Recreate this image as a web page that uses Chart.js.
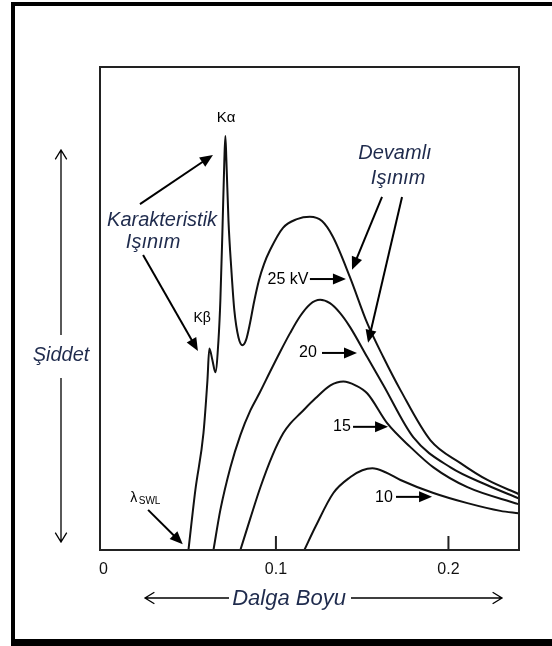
<!DOCTYPE html>
<html><head><meta charset="utf-8">
<script src="https://cdn.jsdelivr.net/npm/chart.js@4"></script>
<style>html,body{margin:0;padding:0;background:#fff}#wrap{width:552px;height:646px;position:relative}</style>
</head><body><div id="wrap"><canvas id="c" width="552" height="646"></canvas></div>
<script>
// Wavelength (nm) vs relative intensity
const kv25 = [[0.0493,0],[0.0533,12.4],[0.0580,24.2],[0.0603,35.1],[0.0614,41.7],[0.0632,39.3],[0.0649,36.8],[0.0667,43.4],[0.0678,51.7],[0.0690,66.1],[0.0701,80.6],[0.0707,85.7],[0.0713,80.6],[0.0725,68.2],[0.0742,57.9],[0.0759,49.6],[0.0783,44.0],[0.0806,42.4],[0.0827,43.5],[0.0850,47.0],[0.0873,51.3],[0.0902,55.9],[0.0931,59.2],[0.0966,62.1],[0.1041,66.7],[0.1122,68.5],[0.1197,69.0],[0.1267,68.1],[0.1331,64.8],[0.1429,56.5],[0.1530,46.9],[0.1623,39.9],[0.1722,33.1],[0.1896,22.7],[0.2070,18.0],[0.2226,14.5],[0.2406,11.6]];
const kv20 = [[0.0638,0],[0.0678,8.3],[0.0736,17.1],[0.0794,23.8],[0.0852,28.9],[0.0908,32.7],[0.0966,36.9],[0.1024,41.0],[0.1082,44.9],[0.1140,48.4],[0.1198,50.9],[0.1256,51.8],[0.1313,51.1],[0.1371,49.1],[0.1429,46.2],[0.1530,39.9],[0.1623,34.1],[0.1797,23.3],[0.2012,17.1],[0.2226,13.4],[0.2406,10.7]];
const kv15 = [[0.0794,0],[0.0852,6.6],[0.0910,13.0],[0.0980,19.6],[0.1043,24.2],[0.1084,26.2],[0.1142,28.3],[0.1229,31.4],[0.1316,34.1],[0.1391,34.9],[0.1461,34.1],[0.1530,32.4],[0.1646,26.2],[0.1780,21.3],[0.1913,17.1],[0.2110,13.0],[0.2406,9.5]];
const kv10 = [[0.1165,0],[0.1229,4.8],[0.1333,11.8],[0.1432,15.1],[0.1501,16.5],[0.1559,16.9],[0.1635,16.1],[0.1722,14.5],[0.1913,11.8],[0.2110,9.7],[0.2301,8.1],[0.2406,7.6]];
const tickValues = [0, 0.1, 0.2];
const tickLabels = ['0', '0.1', '0.2'];
const seriesLabels = ['25 kV', '20', '15', '10'];
const xTitle = 'Dalga Boyu';
const yTitle = 'Şiddet';

const toXY = a => a.map(p => ({x: p[0], y: p[1]}));
const seriesData = [kv25, kv20, kv15, kv10];

// annotation layout (data units)
const labelPos = [[0.1070,55.9],[0.1186,40.8],[0.1383,25.5],[0.1626,10.8]];
const labelArrows = [[[0.1197,56.1],[0.1406,56.1]],[[0.1267,40.8],[0.1470,40.8]],[[0.1447,25.5],[0.1650,25.5]],[[0.1696,11.0],[0.1905,11.0]]];

const NAVY = '#1f2b4d';
function arrowHead(ctx, x1, y1, x2, y2, len, hw) {
  const a = Math.atan2(y2 - y1, x2 - x1);
  ctx.beginPath();
  ctx.moveTo(x2, y2);
  ctx.lineTo(x2 - len*Math.cos(a) + hw*Math.sin(a), y2 - len*Math.sin(a) - hw*Math.cos(a));
  ctx.lineTo(x2 - len*Math.cos(a) - hw*Math.sin(a), y2 - len*Math.sin(a) + hw*Math.cos(a));
  ctx.closePath();
  ctx.fill();
}
function arrow(ctx, x1, y1, x2, y2) {
  const a = Math.atan2(y2 - y1, x2 - x1);
  ctx.beginPath();
  ctx.moveTo(x1, y1);
  ctx.lineTo(x2 - 10*Math.cos(a), y2 - 10*Math.sin(a));
  ctx.stroke();
  arrowHead(ctx, x1, y1, x2, y2, 13, 5.5);
}
function openArrow(ctx, x1, y1, x2, y2) {
  const a = Math.atan2(y2 - y1, x2 - x1);
  ctx.beginPath();
  ctx.moveTo(x1, y1); ctx.lineTo(x2, y2);
  const L = 11, t = 0.55;
  ctx.moveTo(x2 - L*Math.cos(a - t), y2 - L*Math.sin(a - t));
  ctx.lineTo(x2, y2);
  ctx.lineTo(x2 - L*Math.cos(a + t), y2 - L*Math.sin(a + t));
  ctx.stroke();
}

const decor = {
  id: 'decor',
  beforeDraw(chart) {
    const ctx = chart.ctx;
    ctx.save(); ctx.fillStyle = '#fff'; ctx.fillRect(0, 0, chart.width, chart.height); ctx.restore();
  },
  afterDraw(chart) {
    const ctx = chart.ctx, ca = chart.chartArea;
    const xs = chart.scales.x, ys = chart.scales.y;
    const X = v => xs.getPixelForValue(v), Y = v => ys.getPixelForValue(v);
    ctx.save();
    // outer frame
    ctx.fillStyle = '#000';
    ctx.fillRect(11, 2, 541, 4);
    ctx.fillRect(11, 2, 4, 644);
    ctx.fillRect(11, 639, 541, 7);
    // plot box
    ctx.strokeStyle = '#222'; ctx.lineWidth = 2;
    ctx.strokeRect(ca.left, ca.top, ca.right - ca.left, ca.bottom - ca.top);
    // ticks (inward)
    ctx.lineWidth = 2;
    tickValues.forEach((v, i) => {
      if (v > 0) { ctx.beginPath(); ctx.moveTo(X(v), ca.bottom); ctx.lineTo(X(v), ca.bottom - 14); ctx.stroke(); }
    });
    ctx.fillStyle = '#111'; ctx.font = '16px "Liberation Sans", Arial, sans-serif';
    ctx.textAlign = 'center'; ctx.textBaseline = 'middle';
    tickValues.forEach((v, i) => ctx.fillText(tickLabels[i], X(v), ca.bottom + 20));
    // series labels + arrows
    ctx.font = '16px "Liberation Sans", Arial, sans-serif';
    ctx.lineWidth = 2; ctx.strokeStyle = '#000'; ctx.fillStyle = '#000';
    seriesLabels.forEach((t, i) => {
      ctx.fillText(t, X(labelPos[i][0]), Y(labelPos[i][1]));
      const ar = labelArrows[i];
      arrow(ctx, X(ar[0][0]), Y(ar[0][1]), X(ar[1][0]), Y(ar[1][1]));
    });
    // K alpha / K beta
    ctx.font = '15px "Liberation Sans", Arial, sans-serif';
    ctx.fillText('Kα', X(0.0711), Y(89.4));
    ctx.font = '14px "Liberation Sans", Arial, sans-serif';
    ctx.fillText('Kβ', X(0.0572), Y(48.0));
    // lambda SWL
    ctx.textAlign = 'left';
    ctx.font = '14px "Liberation Sans", Arial, sans-serif';
    ctx.fillText('λ', X(0.0155), Y(10.8));
    ctx.font = '10px "Liberation Sans", Arial, sans-serif';
    ctx.fillText('SWL', X(0.0205), Y(10.0));
    arrow(ctx, X(0.0259), Y(8.3), X(0.0460), Y(1.2));
    // Karakteristik Işınım
    ctx.textAlign = 'center';
    ctx.fillStyle = NAVY;
    ctx.font = 'italic 20px "Liberation Sans", Arial, sans-serif';
    ctx.fillText('Karakteristik', X(0.0340), Y(68.3));
    ctx.fillText('Işınım', X(0.0288), Y(63.6));
    ctx.fillText('Devamlı', X(0.1690), Y(82.2));
    ctx.fillText('Işınım', X(0.1708), Y(77.0));
    ctx.fillStyle = '#000';
    arrow(ctx, X(0.0212), Y(71.6), X(0.0635), Y(81.8));
    arrow(ctx, X(0.0230), Y(61.1), X(0.0548), Y(41.2));
    arrow(ctx, X(0.1615), Y(73.1), X(0.1441), Y(58.0));
    arrow(ctx, X(0.1731), Y(73.1), X(0.1534), Y(42.9));
    // axis titles with long arrows
    ctx.fillStyle = NAVY;
    ctx.font = 'italic 20px "Liberation Sans", Arial, sans-serif';
    ctx.fillText(yTitle, 61, 355);
    ctx.font = 'italic 22px "Liberation Sans", Arial, sans-serif';
    ctx.fillText(xTitle, 289, 599);
    ctx.strokeStyle = '#000'; ctx.lineWidth = 1.3;
    openArrow(ctx, 61, 335, 61, 150);
    openArrow(ctx, 61, 378, 61, 542);
    openArrow(ctx, 229, 598, 145, 598);
    openArrow(ctx, 351, 598, 502, 598);
    ctx.restore();
  }
};

new Chart(document.getElementById('c'), {
  type: 'line',
  data: {
    datasets: seriesData.map((s, i) => ({
      label: seriesLabels[i],
      data: toXY(s),
      borderColor: '#111',
      borderWidth: 2,
      pointRadius: 0,
      fill: false,
      cubicInterpolationMode: 'monotone'
    }))
  },
  options: {
    responsive: false,
    devicePixelRatio: 1,
    animation: false,
    layout: { padding: { left: 100, top: 67, right: 33, bottom: 96 } },
    plugins: { legend: { display: false }, tooltip: { enabled: false } },
    scales: {
      x: { type: 'linear', min: -0.00197, max: 0.2409, display: false },
      y: { type: 'linear', min: 0, max: 100, display: false }
    }
  },
  plugins: [decor]
});
</script></body></html>
